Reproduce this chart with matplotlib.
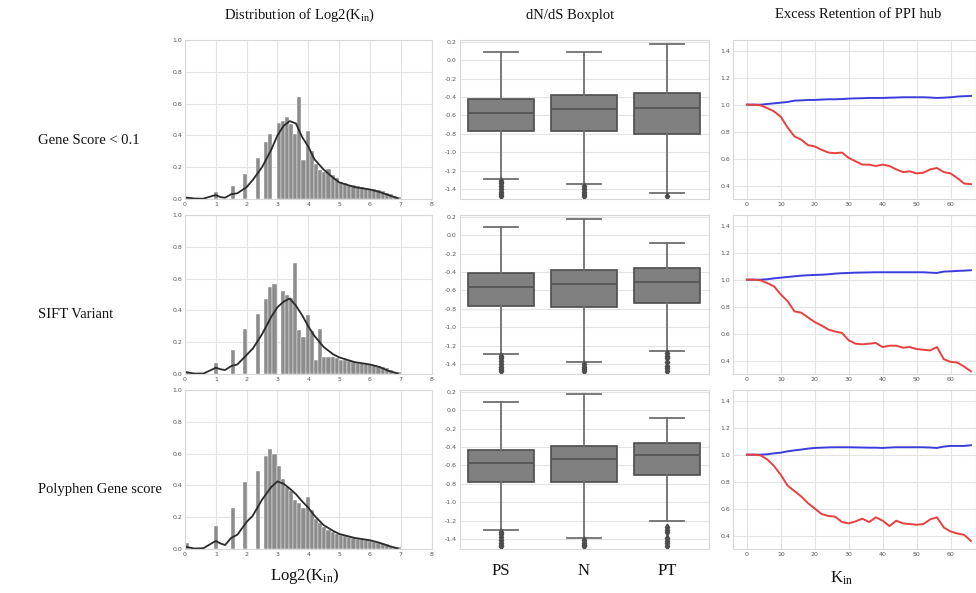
import numpy as np
import matplotlib
matplotlib.use("Agg")
from matplotlib import pyplot as plt

plt.rcParams['mathtext.fontset'] = 'custom'
plt.rcParams['mathtext.rm'] = 'Liberation Serif'
plt.rcParams['mathtext.it'] = 'Liberation Serif:italic'

# ---- data ----
row_names = ["Gene Score < 0.1", "SIFT Variant", "Polyphen Gene score"]
groups = ["PS", "N", "PT"]

# histogram of log2(K_in): heights per bin (bin width 0.135, first bin starts at 0)
bin_width = 0.135
hist_gene = [0.01, 0, 0, 0, 0, 0, 0, 0.045, 0, 0, 0, 0.08, 0, 0, 0.155, 0, 0, 0.26, 0,
             0.36, 0.41, 0, 0.48, 0.49, 0.515, 0.47, 0.41, 0.64, 0.245, 0.43, 0.30, 0.22,
             0.18, 0.17, 0.19, 0.15, 0.13, 0.11, 0.10, 0.09, 0.085, 0.08, 0.075, 0.07,
             0.065, 0.06, 0.055, 0.05, 0.04, 0.03, 0.02, 0.01]
hist_sift = [0.02, 0, 0, 0, 0, 0, 0, 0.07, 0, 0, 0, 0.15, 0, 0, 0.285, 0, 0, 0.375, 0,
             0.47, 0.55, 0.565, 0, 0.52, 0.50, 0.48, 0.70, 0.275, 0.235, 0.37, 0.27, 0.09,
             0.28, 0.105, 0.11, 0.105, 0.10, 0.09, 0.085, 0.08, 0.075, 0.07, 0.068, 0.065,
             0.06, 0.055, 0.05, 0.045, 0.035, 0.025, 0.015, 0.01]
hist_poly = [0.035, 0, 0, 0, 0, 0, 0, 0.145, 0, 0, 0, 0.26, 0, 0, 0.42, 0, 0, 0.49, 0,
             0.585, 0.63, 0.60, 0.525, 0.44, 0.39, 0.365, 0.31, 0.29, 0.255, 0.33, 0.245,
             0.19, 0.165, 0.14, 0.12, 0.105, 0.095, 0.085, 0.08, 0.075, 0.07, 0.065, 0.06,
             0.055, 0.05, 0.045, 0.04, 0.035, 0.03, 0.02, 0.015, 0.01]

kde_x = [0, 0.3, 0.6, 0.9, 1.0, 1.15, 1.3, 1.5, 1.7, 2.0, 2.2, 2.5, 2.8, 3.0, 3.2, 3.4,
         3.6, 3.8, 4.0, 4.2, 4.5, 4.8, 5.0, 5.5, 6.0, 6.3, 6.6, 6.9]
kde_gene = [0.01, 0.003, 0.002, 0.02, 0.025, 0.012, 0.008, 0.03, 0.036, 0.075, 0.12,
            0.2, 0.31, 0.40, 0.46, 0.49, 0.475, 0.39, 0.33, 0.25, 0.185, 0.135, 0.105,
            0.075, 0.06, 0.045, 0.025, 0.005]
kde_sift = [0.012, 0.003, 0.003, 0.03, 0.04, 0.03, 0.025, 0.05, 0.06, 0.12, 0.16, 0.25,
            0.36, 0.42, 0.455, 0.475, 0.43, 0.37, 0.30, 0.24, 0.17, 0.125, 0.105, 0.075,
            0.06, 0.045, 0.02, 0.004]
kde_poly = [0.015, 0.003, 0.005, 0.04, 0.05, 0.035, 0.025, 0.07, 0.09, 0.17, 0.21,
            0.31, 0.39, 0.425, 0.41, 0.38, 0.345, 0.30, 0.26, 0.21, 0.15, 0.115, 0.095,
            0.07, 0.055, 0.04, 0.02, 0.004]

# dN/dS boxplots: whisker low, q1, median, q3, whisker high, outliers
box_gene = {
    "PS": (-1.29, -0.775, -0.575, -0.425, 0.09, [-1.31, -1.34, -1.37, -1.40, -1.43, -1.46, -1.48]),
    "N":  (-1.35, -0.77, -0.53, -0.38, 0.09, [-1.37, -1.40, -1.43, -1.46, -1.48]),
    "PT": (-1.45, -0.80, -0.52, -0.36, 0.18, [-1.48]),
}
box_sift = {
    "PS": (-1.29, -0.77, -0.56, -0.41, 0.09, [-1.31, -1.34, -1.37, -1.40, -1.43, -1.46, -1.48]),
    "N":  (-1.38, -0.78, -0.53, -0.38, 0.18, [-1.40, -1.43, -1.46, -1.48]),
    "PT": (-1.26, -0.74, -0.51, -0.36, -0.08, [-1.28, -1.31, -1.34, -1.38, -1.42, -1.45, -1.48]),
}
box_poly = {
    "PS": (-1.30, -0.78, -0.57, -0.43, 0.085, [-1.32, -1.35, -1.38, -1.41, -1.44, -1.47, -1.48]),
    "N":  (-1.39, -0.785, -0.53, -0.39, 0.175, [-1.41, -1.44, -1.47, -1.48]),
    "PT": (-1.20, -0.70, -0.485, -0.36, -0.09, [-1.27, -1.30, -1.33, -1.39, -1.42, -1.45, -1.48]),
}

# excess retention of PPI hubs vs K_in
k_in = [0, 2, 4, 6, 8, 10, 12, 14, 16, 18, 20, 22, 24, 26, 28, 30, 32, 34, 36, 38, 40,
        42, 44, 46, 48, 50, 52, 54, 56, 58, 60, 62, 64, 66]
red_gene = [1.0, 1.0, 0.995, 0.975, 0.95, 0.91, 0.83, 0.765, 0.74, 0.70, 0.69, 0.665,
            0.645, 0.64, 0.645, 0.605, 0.58, 0.555, 0.555, 0.545, 0.555, 0.545, 0.52,
            0.50, 0.505, 0.49, 0.495, 0.52, 0.53, 0.50, 0.49, 0.455, 0.415, 0.41]
blue_gene = [1.0, 1.0, 1.0, 1.005, 1.01, 1.015, 1.02, 1.03, 1.032, 1.035, 1.035, 1.038,
             1.04, 1.04, 1.042, 1.045, 1.047, 1.048, 1.05, 1.05, 1.05, 1.052, 1.053,
             1.055, 1.055, 1.055, 1.055, 1.053, 1.05, 1.052, 1.055, 1.06, 1.063, 1.065]
red_sift = [1.0, 1.0, 0.995, 0.975, 0.95, 0.89, 0.84, 0.765, 0.755, 0.72, 0.685, 0.66,
            0.63, 0.615, 0.605, 0.55, 0.525, 0.52, 0.525, 0.53, 0.50, 0.51, 0.51, 0.495,
            0.50, 0.485, 0.48, 0.475, 0.50, 0.41, 0.39, 0.385, 0.355, 0.32]
blue_sift = [1.0, 1.0, 1.0, 1.003, 1.01, 1.015, 1.02, 1.025, 1.03, 1.033, 1.035, 1.037,
             1.04, 1.045, 1.048, 1.05, 1.052, 1.053, 1.054, 1.055, 1.055, 1.055, 1.055,
             1.055, 1.055, 1.055, 1.055, 1.052, 1.05, 1.06, 1.062, 1.065, 1.067, 1.07]
red_poly = [1.0, 1.0, 0.995, 0.965, 0.915, 0.85, 0.77, 0.73, 0.69, 0.64, 0.60, 0.56,
            0.545, 0.54, 0.50, 0.49, 0.505, 0.525, 0.50, 0.535, 0.51, 0.47, 0.51, 0.49,
            0.485, 0.48, 0.485, 0.52, 0.535, 0.46, 0.43, 0.415, 0.405, 0.36]
blue_poly = [1.0, 1.0, 1.0, 1.003, 1.01, 1.015, 1.025, 1.032, 1.038, 1.045, 1.05, 1.052,
             1.054, 1.055, 1.055, 1.055, 1.054, 1.053, 1.052, 1.052, 1.05, 1.053, 1.055,
             1.055, 1.055, 1.055, 1.055, 1.053, 1.05, 1.06, 1.065, 1.065, 1.065, 1.07]

hists = [hist_gene, hist_sift, hist_poly]
kdes = [kde_gene, kde_sift, kde_poly]
boxes = [box_gene, box_sift, box_poly]
reds = [red_gene, red_sift, red_poly]
blues = [blue_gene, blue_sift, blue_poly]

# ---- layout (pixels of a 976x593 canvas) ----
W, H = 976, 593
fig = plt.figure(figsize=(W / 100, H / 100), dpi=100)
fig.patch.set_facecolor("white")


def px_axes(left, top, width, height):
    return fig.add_axes([left / W, 1 - (top + height) / H, width / W, height / H])


def style(ax):
    ax.set_facecolor("white")
    ax.grid(True, color="#e3e3e3", linewidth=0.8)
    ax.set_axisbelow(True)
    for s in ax.spines.values():
        s.set_color("#d8d8d8")
        s.set_linewidth(0.8)
    ax.tick_params(length=0, labelsize=4.5, labelcolor="#555555", pad=2)


row_tops = [40, 215, 390]
row_h = 159
serif = "Liberation Serif"

for r in range(3):
    top = row_tops[r]

    # distribution of log2(K_in)
    ax = px_axes(185, top, 246.5, row_h)
    style(ax)
    h = np.array(hists[r])
    centers = (np.arange(len(h)) + 0.5) * bin_width
    ax.bar(centers, h, width=bin_width, color="#8c8c8c", edgecolor="white", linewidth=0.3)
    ax.plot(kde_x, kdes[r], color="#2a2a2a", linewidth=1.3)
    ax.set_xlim(0, 8)
    ax.set_ylim(0, 1.0)
    ax.set_xticks(range(9))
    ax.set_yticks([0, 0.2, 0.4, 0.6, 0.8, 1.0])
    ax.set_yticklabels(["0.0", "0.2", "0.4", "0.6", "0.8", "1.0"])

    # dN/dS boxplot
    ax = px_axes(459.5, top, 249, row_h)
    style(ax)
    stats = []
    for g in groups:
        lo, q1, med, q3, hi, fl = boxes[r][g]
        stats.append(dict(whislo=lo, q1=q1, med=med, q3=q3, whishi=hi, fliers=fl, label=g))
    ax.bxp(stats, positions=[0, 1, 2], widths=0.8, patch_artist=True,
           boxprops=dict(facecolor="#808080", edgecolor="#4d4d4d", linewidth=1.2),
           whiskerprops=dict(color="#6e6e6e", linewidth=1.3),
           capprops=dict(color="#6e6e6e", linewidth=1.3),
           medianprops=dict(color="#555555", linewidth=1.3),
           flierprops=dict(marker="d", markersize=3.5, markerfacecolor="#4d4d4d",
                           markeredgecolor="#4d4d4d"))
    ax.set_xlim(-0.5, 2.5)
    ax.set_ylim(-1.51, 0.22)
    yt = [0.2, 0.0, -0.2, -0.4, -0.6, -0.8, -1.0, -1.2, -1.4]
    ax.set_yticks(yt)
    ax.set_yticklabels(["%.1f" % v for v in yt])
    ax.grid(False, axis="x")
    if r == 2:
        ax.set_xticks([0, 1, 2])
        ax.set_xticklabels(groups, fontsize=12, family=serif, color="#111111")
        ax.tick_params(axis="x", pad=10, labelcolor="#111111")
    else:
        ax.set_xticks([])

    # excess retention of PPI hubs
    ax = px_axes(733, top, 243, row_h)
    style(ax)
    ax.plot(k_in, blues[r], color="#3c3cdc", linewidth=1.4)
    ax.plot(k_in, reds[r], color="#e8403e", linewidth=1.4)
    ax.set_xlim(-4.1, 67.5)
    ax.set_ylim(0.3, 1.48)
    ax.set_xticks(range(0, 70, 10))
    ax.set_yticks([0.4, 0.6, 0.8, 1.0, 1.2, 1.4])

    fig.text(38 / W, 1 - (top + 100) / H, row_names[r], family=serif, fontsize=10.5,
             ha="left", va="center", color="#111111")

fig.text(300 / W, 1 - 15 / H, r"Distribution of Log2(K$_{\mathrm{in}}$)", family=serif,
         fontsize=10.5, ha="center", va="center", color="#111111")
fig.text(570 / W, 1 - 15 / H, "dN/dS Boxplot", family=serif, fontsize=10.5,
         ha="center", va="center", color="#111111")
fig.text(858 / W, 1 - 15 / H, "Excess Retention of PPI hub", family=serif, fontsize=10.5,
         ha="center", va="center", color="#111111")
fig.text(305 / W, 1 - 576 / H, r"Log2(K$_{\mathrm{in}}$)", family=serif, fontsize=12,
         ha="center", va="center", color="#111111")
fig.text(842 / W, 1 - 578 / H, r"K$_{\mathrm{in}}$", family=serif, fontsize=12,
         ha="center", va="center", color="#111111")

fig.savefig("out.png", dpi=100, facecolor="white")
